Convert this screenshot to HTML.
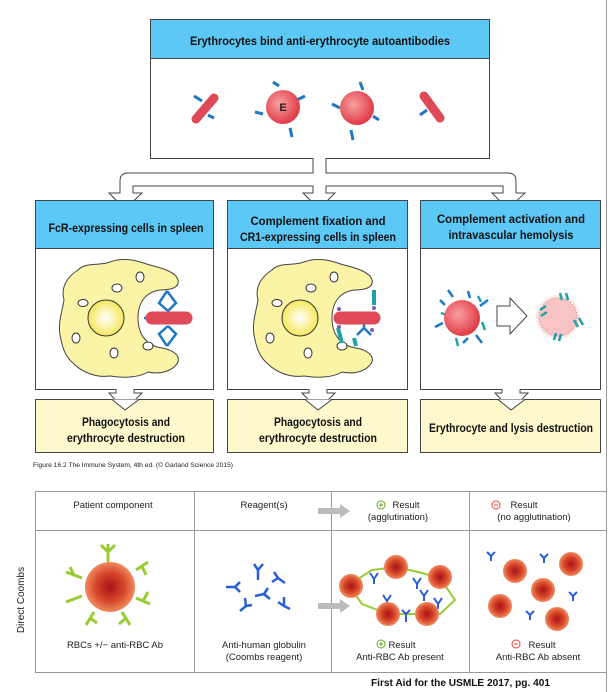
<!DOCTYPE html>
<html><head><style>
body{margin:0;background:#fff;}
svg{display:block}
text{font-family:"Liberation Sans",sans-serif;}
.h{font-weight:bold;font-size:12px;fill:#111;}
</style></head><body>
<svg width="609" height="692" viewBox="0 0 609 692" xmlns="http://www.w3.org/2000/svg">
<defs>
<radialGradient id="rbc" cx="40%" cy="40%" r="60%"><stop offset="0" stop-color="#f8a0a0"/><stop offset="1" stop-color="#e03c48"/></radialGradient>
<radialGradient id="nuc" cx="50%" cy="50%" r="50%"><stop offset="0" stop-color="#fff"/><stop offset="1" stop-color="#f6e85a"/></radialGradient>
<radialGradient id="cr" cx="50%" cy="50%" r="50%"><stop offset="0" stop-color="#a8101a"/><stop offset="0.6" stop-color="#d84a2a"/><stop offset="1" stop-color="#f08a60"/></radialGradient>
<g id="mac">
<path d="M64,300 C60,285 70,275 78,270 C85,262 100,266 110,262 C125,256 140,262 150,265 C162,268 176,272 178,280 C180,288 170,290 160,290 C146,292 138,302 138,318 C138,336 148,346 162,348 C174,350 180,356 178,362 C174,370 162,375 148,372 C138,378 122,378 110,376 C96,378 82,372 74,364 C64,356 62,345 60,335 C58,322 62,312 64,300 Z" fill="#fbf3a6" stroke="#444" stroke-width="1"/>
<circle cx="106" cy="318" r="18" fill="url(#nuc)" stroke="#333" stroke-width="1"/>
<ellipse cx="117" cy="288" rx="5" ry="4" fill="#fff" stroke="#333"/>
<ellipse cx="140" cy="277" rx="4" ry="5" fill="#fff" stroke="#333"/>
<ellipse cx="83" cy="303" rx="5" ry="3.5" fill="#fff" stroke="#333"/>
<ellipse cx="76" cy="338" rx="4" ry="5" fill="#fff" stroke="#333"/>
<ellipse cx="114" cy="353" rx="4" ry="5" fill="#fff" stroke="#333"/>
<ellipse cx="148" cy="346" rx="5" ry="4" fill="#fff" stroke="#333"/>
</g>
</defs>
<line x1="606.5" y1="0" x2="606.5" y2="692" stroke="#999" stroke-width="1"/>
<!-- top box -->
<rect x="150.5" y="19.5" width="339" height="139" fill="#fff" stroke="#444"/>
<rect x="150.5" y="19.5" width="339" height="39" fill="#5bc8f5" stroke="#444"/>
<text class="h" x="320" y="45" text-anchor="middle" textLength="260" lengthAdjust="spacingAndGlyphs">Erythrocytes bind anti-erythrocyte autoantibodies</text>
<g stroke="#1f78c0" stroke-width="3">
<line x1="194" y1="96" x2="202" y2="101"/><line x1="208" y1="115" x2="214" y2="118"/>
<line x1="273" y1="82" x2="279" y2="86"/><line x1="297" y1="100" x2="305" y2="96"/><line x1="290" y1="128" x2="292" y2="137"/><line x1="255" y1="112" x2="263" y2="114"/>
<line x1="360" y1="82" x2="363" y2="90"/><line x1="332" y1="104" x2="340" y2="108"/><line x1="373" y1="116" x2="379" y2="120"/><line x1="351" y1="130" x2="353" y2="140"/>
<line x1="424" y1="97" x2="432" y2="102"/><line x1="420" y1="115" x2="427" y2="110"/>
</g>
<line x1="196" y1="119" x2="214" y2="98" stroke="#e04a58" stroke-width="9" stroke-linecap="round"/>
<line x1="424" y1="96" x2="440" y2="118" stroke="#e04a58" stroke-width="9" stroke-linecap="round"/>
<circle cx="283" cy="107" r="17" fill="url(#rbc)"/>
<text x="283" y="111" text-anchor="middle" font-size="11" font-weight="bold" fill="#222">E</text>
<circle cx="357" cy="108" r="17" fill="url(#rbc)"/>
<!-- branching arrow -->
<path d="M313,158 V173 H128 Q120,173 120,181 V193 H109 L125,209 L142,193 H133 V186 H313 V193 H303 L319,209 L335,193 H326 V186 H503 V193 H492 L508,209 L525,193 H516 V181 Q516,173 508,173 H326 V158" fill="#fff" stroke="#444"/>
<!-- three columns -->
<g stroke="#444" fill="#fff">
<rect x="35.5" y="200.5" width="178" height="189"/>
<rect x="227.5" y="200.5" width="180" height="189"/>
<rect x="420.5" y="200.5" width="180" height="189"/>
</g>
<g fill="#5bc8f5" stroke="#444">
<rect x="35.5" y="200.5" width="178" height="48"/>
<rect x="227.5" y="200.5" width="180" height="48"/>
<rect x="420.5" y="200.5" width="180" height="48"/>
</g>
<text class="h" x="126" y="232" text-anchor="middle" textLength="155" lengthAdjust="spacingAndGlyphs">FcR-expressing cells in spleen</text>
<text class="h" x="318" y="225" text-anchor="middle" textLength="135" lengthAdjust="spacingAndGlyphs">Complement fixation and</text>
<text class="h" x="318" y="241" text-anchor="middle" textLength="156" lengthAdjust="spacingAndGlyphs">CR1-expressing cells in spleen</text>
<text class="h" x="511" y="223" text-anchor="middle" textLength="148" lengthAdjust="spacingAndGlyphs">Complement activation and</text>
<text class="h" x="511" y="239" text-anchor="middle" textLength="125" lengthAdjust="spacingAndGlyphs">intravascular hemolysis</text>
<use href="#mac"/>
<use href="#mac" x="194"/>
<g stroke="#1f78c0" stroke-width="2.5" fill="none">
<path d="M167,291 L159,303 L168,311 M167,291 L176,303 L168,311"/>
<path d="M167,346 L159,334 L168,326 M167,346 L176,334 L168,326"/>
<line x1="144" y1="318" x2="154" y2="318"/>
<path d="M357,335 L364,328 L371,335 M364,328 V320"/>
</g>
<line x1="152" y1="318" x2="186" y2="318" stroke="#e04a58" stroke-width="13" stroke-linecap="round"/>
<line x1="340" y1="318" x2="374" y2="318" stroke="#e04a58" stroke-width="13" stroke-linecap="round"/>
<g stroke="#20a0a8" stroke-width="4"><line x1="374" y1="290" x2="374" y2="305"/><line x1="338" y1="328" x2="342" y2="343"/><line x1="354" y1="338" x2="356" y2="346"/></g>
<g fill="#7a5cc0"><circle cx="339" cy="309" r="2"/><circle cx="339" cy="327" r="2"/><circle cx="374" cy="308" r="2"/><circle cx="372" cy="330" r="2"/></g>
<!-- col3 -->
<g stroke="#1f78c0" stroke-width="2.5"><line x1="448" y1="290" x2="453" y2="297"/><line x1="435" y1="327" x2="443" y2="323"/><line x1="480" y1="306" x2="488" y2="300"/><line x1="476" y1="335" x2="482" y2="343"/><line x1="463" y1="343" x2="468" y2="338"/><line x1="440" y1="300" x2="445" y2="305"/><line x1="468" y1="291" x2="470" y2="298"/></g>
<g stroke="#20a0a8" stroke-width="2.5"><line x1="478" y1="296" x2="481" y2="302"/><line x1="441" y1="313" x2="447" y2="315"/><line x1="456" y1="338" x2="458" y2="346"/><line x1="482" y1="322" x2="485" y2="330"/></g>
<circle cx="462" cy="318" r="18" fill="url(#rbc)"/>
<path d="M497,306 H510 V298 L527,316 L510,334 V326 H497 Z" fill="#fff" stroke="#444"/>
<circle cx="558" cy="317" r="22" fill="#fbd8d8" opacity="0.6"/>
<circle cx="558" cy="317" r="19" fill="#f8c4c4" stroke="#c99" stroke-dasharray="1.5,1.5"/>
<g stroke="#20a0a8" stroke-width="2.5"><line x1="560" y1="293" x2="562" y2="300"/><line x1="566" y1="293" x2="568" y2="300"/><line x1="540" y1="310" x2="546" y2="306"/><line x1="541" y1="316" x2="547" y2="312"/><line x1="574" y1="320" x2="578" y2="327"/><line x1="579" y1="318" x2="583" y2="325"/><line x1="556" y1="333" x2="554" y2="340"/><line x1="561" y1="334" x2="559" y2="341"/></g>
<!-- down arrows -->
<g fill="#fff" stroke="#444">
<path d="M116,389 V393 H109 L125,410 L142,393 H134 V389"/>
<path d="M309,389 V393 H302 L318,410 L335,393 H327 V389"/>
<path d="M502,389 V393 H495 L511,410 L528,393 H520 V389"/>
</g>
<g fill="#fdf9cc" stroke="#444">
<rect x="35.5" y="399.5" width="178" height="53"/>
<rect x="227.5" y="399.5" width="180" height="53"/>
<rect x="420.5" y="399.5" width="180" height="53"/>
</g>
<g fill="#fff" stroke="#444"><path d="M112,399.5 L125,410 L139,399.5"/><path d="M305,399.5 L318,410 L332,399.5"/><path d="M498,399.5 L511,410 L525,399.5"/></g>
<text class="h" x="126" y="426" text-anchor="middle" textLength="88" lengthAdjust="spacingAndGlyphs">Phagocytosis and</text>
<text class="h" x="126" y="442" text-anchor="middle" textLength="118" lengthAdjust="spacingAndGlyphs">erythrocyte destruction</text>
<text class="h" x="318" y="426" text-anchor="middle" textLength="88" lengthAdjust="spacingAndGlyphs">Phagocytosis and</text>
<text class="h" x="318" y="442" text-anchor="middle" textLength="118" lengthAdjust="spacingAndGlyphs">erythrocyte destruction</text>
<text class="h" x="511" y="432" text-anchor="middle" textLength="164" lengthAdjust="spacingAndGlyphs">Erythrocyte and lysis destruction</text>
<text x="33" y="467" font-size="6.5" fill="#222" textLength="200" lengthAdjust="spacingAndGlyphs">Figure 16.2  The Immune System, 4th ed. (© Garland Science 2015)</text>
<!-- bottom table -->
<g stroke="#999" fill="none">
<path d="M35,491.5 H606 M35.5,491 V673 M194.5,491 V673 M331.5,491 V673 M469.5,491 V673 M35,530.5 H606 M35,672.5 H606"/>
</g>
<g font-size="9.5" fill="#222" text-anchor="middle">
<text x="113" y="508">Patient component</text>
<text x="264" y="508">Reagent(s)</text>
<text x="406" y="508">Result</text><text x="398" y="520">(agglutination)</text>
<text x="524" y="508">Result</text><text x="534" y="520">(no agglutination)</text>
<text x="115" y="648">RBCs +/− anti-RBC Ab</text>
<text x="264" y="648">Anti-human globulin</text><text x="264" y="660">(Coombs reagent)</text>
<text x="402" y="648">Result</text><text x="400" y="660">Anti-RBC Ab present</text>
<text x="542" y="648">Result</text><text x="538" y="660">Anti-RBC Ab absent</text>
</g>
<g fill="none" stroke-width="1"><circle cx="381" cy="505" r="4" stroke="#6a2"/><circle cx="496" cy="505" r="4" stroke="#e43"/><circle cx="381" cy="644" r="4" stroke="#6a2"/><circle cx="516" cy="644" r="4" stroke="#e43"/></g>
<path d="M379,505h4M381,503v4M379,644h4M381,642v4" stroke="#6a2" stroke-width="1"/>
<path d="M494,505h4M514,644h4" stroke="#e43" stroke-width="1"/>
<text x="24" y="600" font-size="10" fill="#222" text-anchor="middle" transform="rotate(-90 24 600)">Direct Coombs</text>
<g fill="#bbb"><path d="M318,508 H340 V504 L350,511 L340,518 V514 H318Z"/><path d="M318,603 H340 V599 L350,606 L340,613 V609 H318Z"/></g>
<!-- patient RBC -->
<g stroke="#9c3" stroke-width="3" fill="none">
<path d="M108,562 V544 M108,552 L101,545 M108,552 L115,545"/>
<path d="M82,578 L66,572 M74,575 L70,567"/><path d="M136,570 L148,562 M142,566 L146,575"/>
<path d="M136,598 L150,604 M143,601 L148,592"/><path d="M94,612 L86,625 M90,618 L97,623"/><path d="M122,612 L130,625 M126,618 L119,624"/><path d="M82,596 L66,602"/>
</g>
<circle cx="110" cy="587" r="25" fill="url(#cr)"/>
<!-- reagent Y shapes -->
<g stroke="#2a5ed8" stroke-width="2.5" fill="none">
<path d="M258,570 V580 M258,570 L254,564 M258,570 L263,564"/>
<path d="M278,578 L285,583 M278,578 L274,572 M278,578 L272,582"/>
<path d="M226,587 L235,587 M235,587 L240,582 M235,587 L240,592"/>
<path d="M264,594 L255,596 M264,594 L268,588 M264,594 L270,599"/>
<path d="M246,606 L240,611 M246,606 L245,598 M246,606 L252,605"/>
<path d="M284,606 L278,602 M284,606 L290,609 M284,606 L284,597"/>
</g>
<!-- agglutination -->
<g stroke="#9c3" stroke-width="2" fill="none"><path d="M352,583 L372,570 L396,567 L418,572 L440,578 L455,600 L440,614 L427,614 L388,614 L362,604 L352,590"/></g>
<g stroke="#2a5ed8" stroke-width="2" fill="none"><path d="M370,573l4,6 4,-6M374,579v5M413,578l4,6 4,-6M417,584v5M383,595l4,6 4,-6M387,601v5M434,598l4,6 4,-6M438,604v5M406,613l0,9M402,610l4,4 4,-4M420,590l4,6 4,-6M424,596v5"/></g>
<g fill="url(#cr)"><circle cx="351" cy="586" r="12"/><circle cx="396" cy="567" r="12"/><circle cx="440" cy="577" r="12"/><circle cx="388" cy="614" r="12"/><circle cx="427" cy="614" r="12"/></g>
<g fill="url(#cr)"><circle cx="515" cy="571" r="12"/><circle cx="571" cy="564" r="12"/><circle cx="543" cy="590" r="12"/><circle cx="500" cy="606" r="12"/><circle cx="557" cy="619" r="12"/></g>
<g stroke="#2a5ed8" stroke-width="2" fill="none"><path d="M487,552l4,4 4,-4M491,556v5M540,554l4,4 4,-4M544,558v5M569,592l4,4 4,-4M573,596v5M526,611l4,4 4,-4M530,615v5"/></g>
<text x="371" y="686" font-size="10" font-weight="bold" fill="#111" textLength="179" lengthAdjust="spacingAndGlyphs">First Aid for the USMLE 2017, pg. 401</text>
</svg>
</body></html>
